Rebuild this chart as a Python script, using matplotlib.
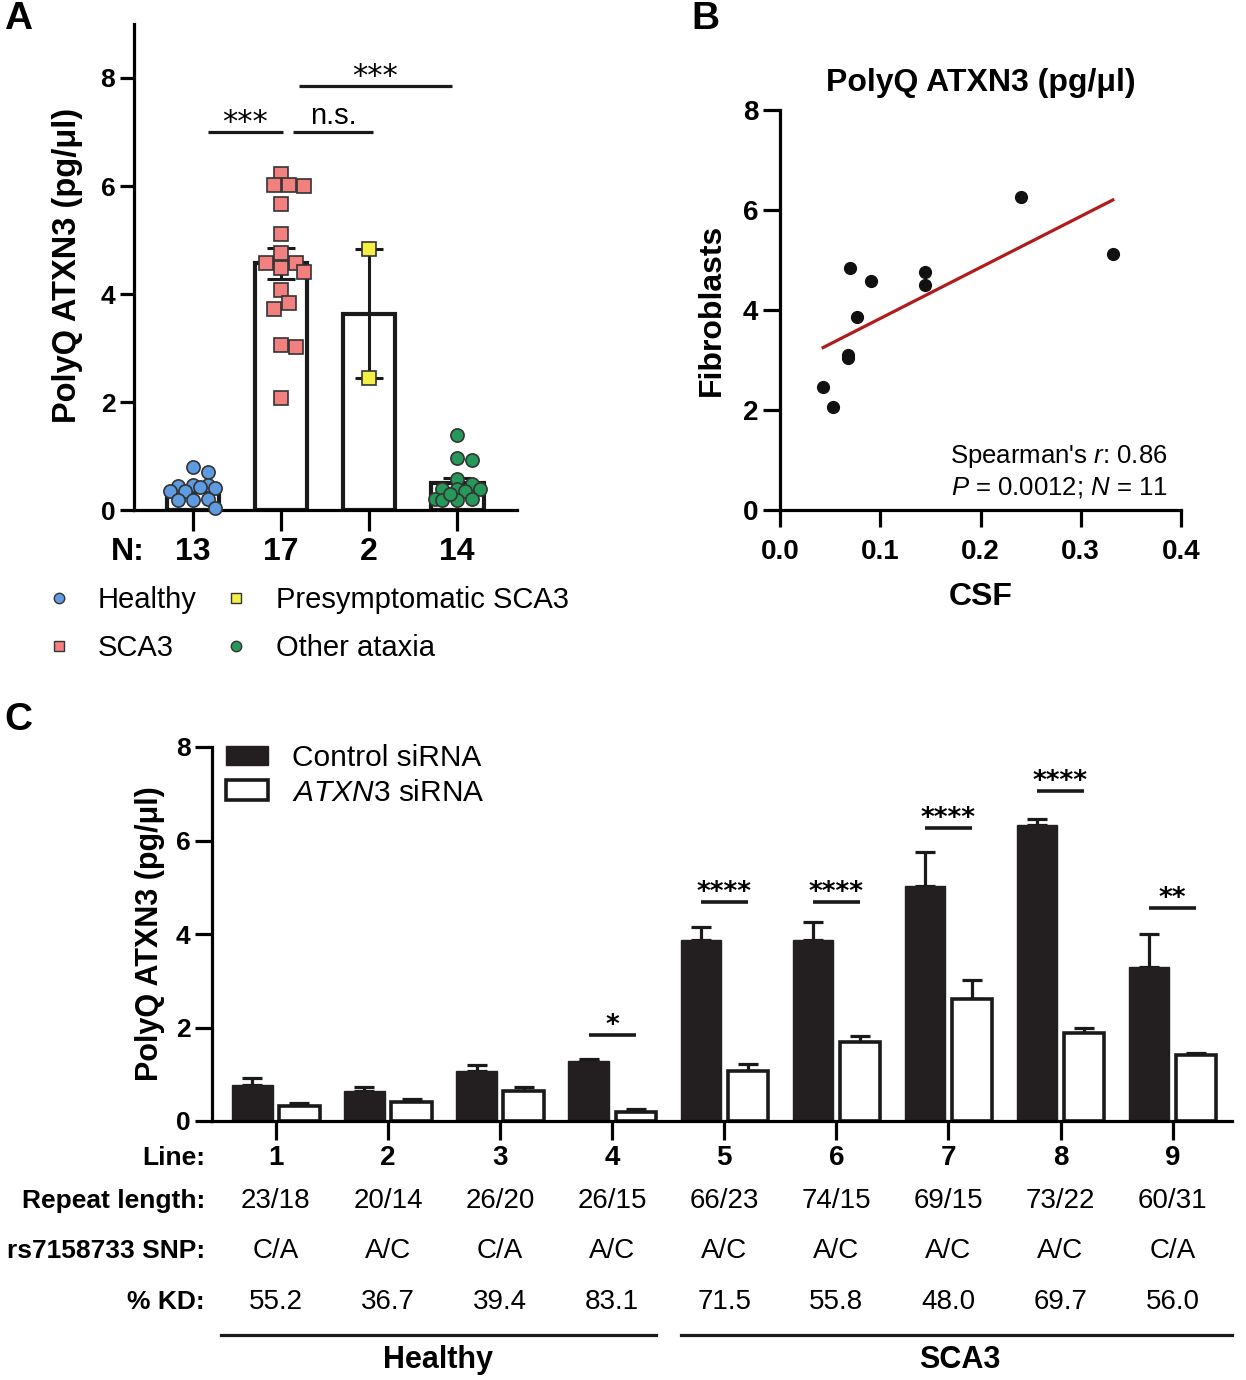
import numpy as np
import matplotlib
matplotlib.use("Agg")
import matplotlib.pyplot as plt
from matplotlib.lines import Line2D
from matplotlib.transforms import blended_transform_factory as btf

plt.rcParams['font.family'] = ['Liberation Sans', 'DejaVu Sans']
plt.rcParams['mathtext.fontset'] = 'custom'
plt.rcParams['mathtext.rm'] = 'Liberation Sans'
plt.rcParams['mathtext.it'] = 'Liberation Sans:italic'
plt.rcParams['mathtext.bf'] = 'Liberation Sans:bold'

# ---------------- data ----------------
groups_a = ["Healthy", "SCA3", "Presymptomatic SCA3", "Other ataxia"]
n_labels = ["13", "17", "2", "14"]
healthy = [0.80, 0.71, 0.46, 0.44, 0.40, 0.46, 0.36, 0.35, 0.19, 0.19, 0.20, 0.04, 0.42]
sca3 = [6.23, 6.02, 6.02, 6.00, 5.66, 5.12, 4.75, 4.58, 4.58, 4.49, 4.41, 4.07, 3.84,
        3.72, 3.06, 3.01, 2.07]
presym = [4.83, 2.44]
other = [1.39, 0.96, 0.93, 0.57, 0.49, 0.38, 0.39, 0.39, 0.35, 0.20, 0.19, 0.20, 0.19, 0.30]
sig_a = ["***", "n.s.", "***"]
sig_a_pairs = [(0, 1), (1, 2), (1, 3)]
sig_a_y = [7.0, 7.0, 7.85]

csf = [0.043, 0.053, 0.068, 0.068, 0.070, 0.077, 0.091, 0.145, 0.145, 0.240, 0.332]
fib = [2.45, 2.05, 3.03, 3.10, 4.83, 3.85, 4.58, 4.75, 4.50, 6.25, 5.12]

lines_c = ["1", "2", "3", "4", "5", "6", "7", "8", "9"]
ctrl = [0.77, 0.65, 1.07, 1.28, 3.87, 3.87, 5.03, 6.33, 3.30]
ctrl_err = [0.16, 0.07, 0.12, 0.05, 0.29, 0.38, 0.73, 0.13, 0.70]
kd = [0.33, 0.40, 0.64, 0.20, 1.08, 1.69, 2.60, 1.89, 1.42]
kd_err = [0.05, 0.06, 0.09, 0.06, 0.13, 0.12, 0.41, 0.11, 0.04]
sig_c = ["", "", "", "*", "****", "****", "****", "****", "**"]
sig_c_y = [0, 0, 0, 1.84, 4.68, 4.68, 6.27, 7.05, 4.55]
repeat = ["23/18", "20/14", "26/20", "26/15", "66/23", "74/15", "69/15", "73/22", "60/31"]
snp = ["C/A", "A/C", "C/A", "A/C", "A/C", "A/C", "A/C", "A/C", "C/A"]
kd_pct = ["55.2", "36.7", "39.4", "83.1", "71.5", "55.8", "48.0", "69.7", "56.0"]

# ---------------- figure ----------------
W, H = 1246, 1380
fig = plt.figure(figsize=(W / 100, H / 100), dpi=100)

def axrect(x0, y0, x1, y1):
    return [x0 / W, 1 - y1 / H, (x1 - x0) / W, (y1 - y0) / H]

LW = 2.3
def style_axes(ax):
    for s in ["top", "right"]:
        ax.spines[s].set_visible(False)
    for s in ["left", "bottom"]:
        ax.spines[s].set_linewidth(LW)
    ax.tick_params(width=LW, length=10, direction="out")

# ---------------- panel A ----------------
axA = fig.add_axes(axrect(134, 24, 517, 510))
style_axes(axA)
axA.set_xlim(-0.67, 3.68)
axA.set_ylim(0, 9)
axA.set_yticks([0, 2, 4, 6, 8])
axA.set_yticklabels(["0", "2", "4", "6", "8"], fontsize=19, fontweight="bold")
axA.set_xticks(range(4))
axA.set_xticklabels([])
axA.tick_params(axis="x", length=15)

data_a = [healthy, sca3, presym, other]
colors = ["#5f9be0", "#f2807f", "#f3ef45", "#26995a"]
markers = ["o", "s", "s", "o"]
means = [np.mean(d) for d in data_a]
sems = [np.std(d, ddof=1) / np.sqrt(len(d)) for d in data_a]
axA.bar(range(4), means, width=0.6, facecolor="white", edgecolor="#1a1a1a",
        linewidth=3.0, zorder=2)
axA.errorbar(range(4), means, yerr=sems, fmt="none", ecolor="#1a1a1a",
             elinewidth=2.2, capsize=10, capthick=2.2, zorder=3)

fig.canvas.draw()
def swarm(vals, center, ax, sep, step, maxoff):
    t = ax.transData
    cx, _ = t.transform((center, 0))
    order = np.argsort(vals)[::-1]
    placed = []
    xs = np.zeros(len(vals))
    nmax = int(maxoff // step)
    cands = [0]
    for k in range(1, nmax + 1):
        cands += [k * step, -k * step]
    for i in order:
        py = t.transform((center, vals[i]))[1]
        best, bestd = None, -1
        for c in cands:
            px = cx + c
            d = min([np.hypot(px - qx, py - qy) for qx, qy in placed] + [1e9])
            if d >= sep:
                best = px
                break
            if d > bestd:
                best, bestd = px, d
        placed.append((best, py))
        xs[i] = ax.transData.inverted().transform((best, py))[0]
    return xs

for i, d in enumerate(data_a):
    xs = swarm(d, i, axA, sep=12.5, step=7.5, maxoff=24)
    axA.plot(xs, d, linestyle="none", marker=markers[i], markersize=9.5,
             markerfacecolor=colors[i], markeredgecolor="#333333",
             markeredgewidth=1.2, zorder=4, clip_on=False)

for k, ((a, b), s, y) in enumerate(zip(sig_a_pairs, sig_a, sig_a_y)):
    x0 = a + (0.17 if k == 0 else 0.14 if k == 1 else 0.2)
    x1 = b + (0.02 if k == 0 else 0.05 if k == 1 else -0.06)
    axA.plot([x0, x1], [y, y], color="#1a1a1a", lw=2.3, solid_capstyle="butt", clip_on=False)
    if s == "n.s.":
        axA.annotate(s, xy=((x0 + x1) / 2, y), xytext=(0, 6), textcoords="offset points",
                     ha="center", va="baseline", fontsize=21)
    else:
        axA.annotate(s, xy=((x0 + x1) / 2, y), xytext=(0, 1), textcoords="offset points",
                     ha="center", va="baseline", fontsize=22, family="DejaVu Sans")

trA = btf(axA.transData, axA.transAxes)
yN = (510 - 552) / 486
for i, n in enumerate(n_labels):
    axA.text(i, yN, n, transform=trA, ha="center", va="center", fontsize=23, fontweight="bold")
axA.text((128 - 134) / 383, yN, "N:", transform=axA.transAxes, ha="center", va="center",
         fontsize=23, fontweight="bold")
axA.text((68 - 134) / 383, (510 - 265) / 486, "PolyQ ATXN3 (pg/\u03bcl)", transform=axA.transAxes,
         rotation=90, ha="center", va="center", fontsize=23.5, fontweight="bold")

handles = [Line2D([], [], linestyle="none", marker=m, markersize=7.5, markerfacecolor=c,
                  markeredgecolor="#333333", markeredgewidth=1.0)
           for m, c in zip(markers, colors)]
fig.legend(handles, groups_a, ncol=2,
           loc="upper left", bbox_to_anchor=(44 / W, 1 - 586 / H), frameon=False,
           fontsize=21, handlelength=1.0, handletextpad=0.85, columnspacing=0.85,
           labelspacing=0.68, borderpad=0, borderaxespad=0)

fig.text(18 / W, 1 - 19 / H, "A", fontsize=28, fontweight="bold", ha="center", va="center")

# ---------------- panel B ----------------
axB = fig.add_axes(axrect(780, 110, 1181, 510))
style_axes(axB)
axB.set_xlim(0, 0.4)
axB.set_ylim(0, 8)
axB.set_xticks([0, 0.1, 0.2, 0.3, 0.4])
axB.set_xticklabels(["0.0", "0.1", "0.2", "0.3", "0.4"], fontsize=20, fontweight="bold")
axB.set_yticks([0, 2, 4, 6, 8])
axB.set_yticklabels(["0", "2", "4", "6", "8"], fontsize=20, fontweight="bold")
axB.tick_params(length=12)
axB.tick_params(axis="x", pad=9)
axB.plot(csf, fib, linestyle="none", marker="o", markersize=8.5, color="#111111",
         zorder=3, clip_on=False)
slope, icpt = np.polyfit(csf, fib, 1)
xl = np.array([min(csf), max(csf)])
axB.plot(xl, slope * xl + icpt, color="#b01c1c", lw=2.3, zorder=2)
axB.set_title("PolyQ ATXN3 (pg/\u03bcl)", fontsize=23, fontweight="bold", pad=14)
axB.text((712 - 780) / 401, 0.5, "Fibroblasts", transform=axB.transAxes, rotation=90,
         ha="center", va="center", fontsize=23, fontweight="bold")
axB.text(0.5, (510 - 597) / 400, "CSF", transform=axB.transAxes, ha="center", va="center",
         fontsize=23, fontweight="bold")
axB.text(0.9676, 0.135, "Spearman's $r$: 0.86", transform=axB.transAxes, ha="right",
         va="center", fontsize=18.5)
axB.text(0.9676, 0.0575, "$P$ = 0.0012; $N$ = 11", transform=axB.transAxes, ha="right",
         va="center", fontsize=18.5)
fig.text(705 / W, 1 - 19 / H, "B", fontsize=28, fontweight="bold", ha="center", va="center")

# ---------------- panel C ----------------
axC = fig.add_axes(axrect(212, 747, 1232, 1121))
style_axes(axC)
axC.set_xlim(-0.57, 8.53)
axC.set_ylim(0, 8)
axC.set_yticks([0, 2, 4, 6, 8])
axC.set_yticklabels(["0", "2", "4", "6", "8"], fontsize=19, fontweight="bold")
axC.set_xticks(range(9))
axC.set_xticklabels([])
axC.tick_params(length=12)
axC.tick_params(axis="x", length=14)
x = np.arange(9)
bw = 0.36
off = 0.21
b1 = axC.bar(x - off, ctrl, width=bw, color="#231f20", edgecolor="#231f20", linewidth=1.0,
             zorder=2, label="Control siRNA")
b2 = axC.bar(x + off, kd, width=bw, facecolor="white", edgecolor="#1a1a1a", linewidth=2.6,
             zorder=2, label="$\\mathit{ATXN3}$ siRNA")
axC.errorbar(x - off, ctrl, yerr=[np.zeros(9), ctrl_err], fmt="none", ecolor="#1a1a1a",
             elinewidth=2.3, capsize=7, capthick=2.3, zorder=1)
axC.errorbar(x + off, kd, yerr=[np.zeros(9), kd_err], fmt="none", ecolor="#1a1a1a",
             elinewidth=2.3, capsize=7, capthick=2.3, zorder=1)
for i, (s, y) in enumerate(zip(sig_c, sig_c_y)):
    if not s:
        continue
    axC.plot([i - off, i + off], [y, y], color="#1a1a1a", lw=2.6, solid_capstyle="butt")
    axC.annotate(s, xy=(i, y), xytext=(0, 1.5), textcoords="offset points", ha="center",
                 va="baseline", fontsize=19, fontweight="bold", family="DejaVu Sans")
axC.legend(handles=[b1, b2], loc="upper left", bbox_to_anchor=((226 - 212) / 1020, 1.008),
           frameon=False, fontsize=21.5, handlelength=1.4, handleheight=0.65,
           handletextpad=0.8, labelspacing=0.22, borderpad=0, borderaxespad=0)
axC.text((150 - 212) / 1020, 0.5, "PolyQ ATXN3 (pg/\u03bcl)", transform=axC.transAxes,
         rotation=90, ha="center", va="center", fontsize=22, fontweight="bold")

trC = btf(axC.transData, axC.transAxes)
rows = [("Line:", lines_c, True, 1158), ("Repeat length:", repeat, False, 1201),
        ("rs7158733 SNP:", snp, False, 1251), ("% KD:", kd_pct, False, 1302)]
for lab, vals, bold, ypx in rows:
    ya = (1121 - ypx) / 374
    axC.text((205 - 212) / 1020, ya, lab, transform=axC.transAxes, ha="right", va="center",
             fontsize=19, fontweight="bold")
    for i, v in enumerate(vals):
        axC.text(i, ya, v, transform=trC, ha="center", va="center", fontsize=20,
                 fontweight="bold" if bold else "normal")
yline = (1121 - 1335) / 374
axC.plot([-0.49, 3.39], [yline, yline], transform=trC, color="#1a1a1a", lw=2.3, clip_on=False)
axC.plot([3.61, 8.53], [yline, yline], transform=trC, color="#1a1a1a", lw=2.3, clip_on=False)
ylab = (1121 - 1360) / 374
axC.text(1.45, ylab, "Healthy", transform=trC, ha="center", va="center", fontsize=22,
         fontweight="bold")
axC.text(6.10, ylab, "SCA3", transform=trC, ha="center", va="center", fontsize=22,
         fontweight="bold")
fig.text(18 / W, 1 - 720 / H, "C", fontsize=28, fontweight="bold", ha="center", va="center")

fig.savefig("out.png", dpi=100)
